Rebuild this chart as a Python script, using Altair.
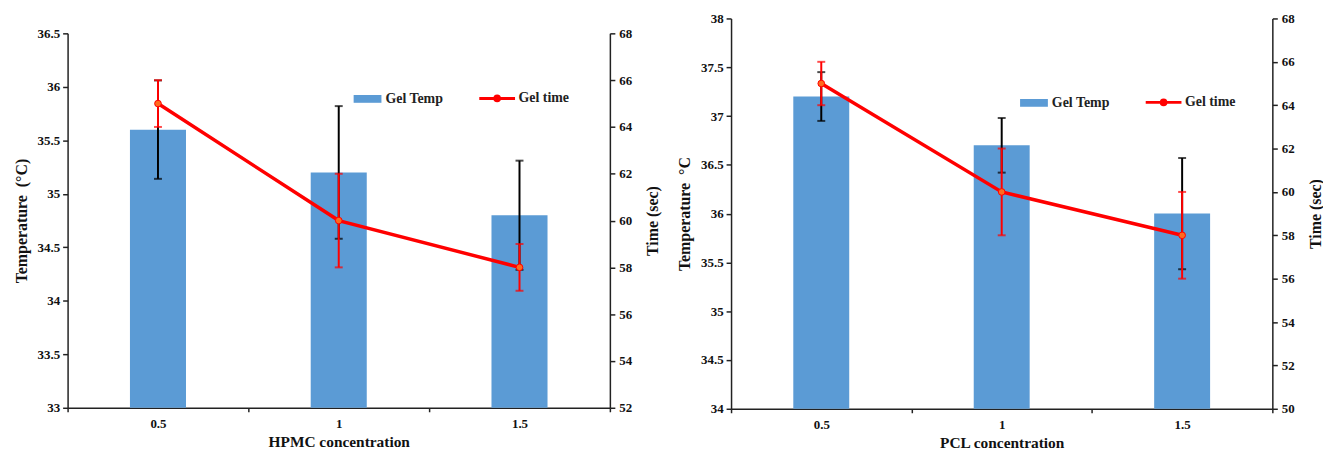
import altair as alt
import pandas as pd

# ---- data ----
conc = ["0.5", "1", "1.5"]

hpmc_temp = [35.6, 35.2, 34.8]
hpmc_temp_err = [0.46, 0.62, 0.51]
hpmc_time = [65, 60, 58]
hpmc_time_err = [1, 2, 1]

pcl_temp = [37.2, 36.7, 36.0]
pcl_temp_err = [0.25, 0.28, 0.57]
pcl_time = [65, 60, 58]
pcl_time_err = [1, 2, 2]

hpmc_temp_ticks = [33, 33.5, 34, 34.5, 35, 35.5, 36, 36.5]
hpmc_time_ticks = [52, 54, 56, 58, 60, 62, 64, 66, 68]
pcl_temp_ticks = [34, 34.5, 35, 35.5, 36, 36.5, 37, 37.5, 38]
pcl_time_ticks = [50, 52, 54, 56, 58, 60, 62, 64, 66, 68]

BLUE = "#5B9BD5"
RED = "#FF0000"
FONT = "Liberation Serif"
NB = "\u00a0"

TIME_SYMBOL = "M-1,0H1M0.13,0A0.13,0.13,0,1,1,-0.13,0A0.13,0.13,0,1,1,0.13,0"
BAR_SYMBOL = "M-1,-0.28H1V0.28H-1Z"


def panel(temp, terr, time, time_err, xtitle, ytitle, tticks, timeticks,
          w, h, leg1, leg2):
    df = pd.DataFrame({
        "conc": conc,
        "temp": temp,
        "tlo": [t - e for t, e in zip(temp, terr)],
        "thi": [t + e for t, e in zip(temp, terr)],
        "time": time,
        "mlo": [t - e for t, e in zip(time, time_err)],
        "mhi": [t + e for t, e in zip(time, time_err)],
        "s1": ["Gel Temp"] * 3,
        "s2": ["Gel time"] * 3,
    })
    xenc = alt.X("conc:N", sort=conc,
                 scale=alt.Scale(paddingInner=0, paddingOuter=0),
                 axis=alt.Axis(title=xtitle, labelAngle=0, tickBand="extent",
                               tickSize=4, labelPadding=6, titlePadding=4,
                               titleFontSize=15.5))
    base = alt.Chart(df).encode(x=xenc)

    tscale = alt.Scale(domain=[tticks[0], tticks[-1]], nice=False, zero=False)
    taxis = alt.Axis(title=ytitle, values=tticks, tickSize=5, labelPadding=3,
                     titlePadding=8, labelExpr="datum.value")
    mscale = alt.Scale(domain=[timeticks[0], timeticks[-1]], nice=False, zero=False)
    maxis = alt.Axis(title="Time (sec)", orient="right", values=timeticks,
                     tickSize=5, labelPadding=4, titlePadding=13, titleAngle=270,
                     titleBaseline="top")

    def yt(f):
        return alt.Y(f, scale=tscale, axis=taxis)

    def ym(f):
        return alt.Y(f, scale=mscale, axis=maxis)

    bars = base.mark_bar(width=alt.RelativeBandSize(0.31), clip=True).encode(
        y=yt("temp:Q"),
        fill=alt.Fill("s1:N", scale=alt.Scale(domain=["Gel Temp"], range=[BLUE]),
                      legend=alt.Legend(title=None, orient="none",
                                        legendX=leg1[0], legendY=leg1[1],
                                        symbolType=BAR_SYMBOL, symbolSize=784,
                                        symbolStrokeWidth=0, padding=0,
                                        labelFontSize=14, labelFont=FONT,
                                        labelFontWeight="bold", labelColor="#222",
                                        labelOffset=4)))
    brule = base.mark_rule(color="black", strokeWidth=2).encode(
        y=yt("tlo:Q"), y2="thi:Q")
    btick_lo = base.mark_tick(color="black", thickness=2, size=8).encode(y=yt("tlo:Q"))
    btick_hi = base.mark_tick(color="black", thickness=2, size=8).encode(y=yt("thi:Q"))

    line = base.mark_line(strokeWidth=3.5).encode(
        y=ym("time:Q"),
        stroke=alt.Stroke("s2:N", scale=alt.Scale(domain=["Gel time"], range=[RED]),
                          legend=alt.Legend(title=None, orient="none",
                                            legendX=leg2[0], legendY=leg2[1],
                                            symbolType=TIME_SYMBOL, symbolSize=1296,
                                            symbolStrokeWidth=3,
                                            symbolFillColor="#FF6A1E",
                                            padding=0,
                                            labelFontSize=14, labelFont=FONT,
                                            labelFontWeight="bold", labelColor="#222",
                                            labelOffset=2)))
    rrule = base.mark_rule(color=RED, strokeWidth=2).encode(y=ym("mlo:Q"), y2="mhi:Q")
    rtick_lo = base.mark_tick(color=RED, thickness=2, size=8).encode(y=ym("mlo:Q"))
    rtick_hi = base.mark_tick(color=RED, thickness=2, size=8).encode(y=ym("mhi:Q"))
    pts = base.mark_point(filled=True, size=45, color="#FF6A1E", stroke=RED,
                          strokeWidth=1, opacity=1).encode(y=ym("time:Q"))

    left = alt.layer(bars, brule, btick_lo, btick_hi)
    right = alt.layer(line, rrule, rtick_lo, rtick_hi, pts)
    return alt.layer(left, right).resolve_scale(
        y="independent", fill="independent", stroke="independent"
    ).properties(width=w, height=h)


c1 = panel(hpmc_temp, hpmc_temp_err, hpmc_time, hpmc_time_err,
           "HPMC concentration", "Temperature" + NB + NB + "(°C)",
           hpmc_temp_ticks, hpmc_time_ticks, 546, 377,
           (288, 52), (413, 46))
c2 = panel(pcl_temp, pcl_temp_err, pcl_time, pcl_time_err,
           "PCL concentration", "Temperature" + NB + NB + "°C",
           pcl_temp_ticks, pcl_time_ticks, 545, 393,
           (291, 71), (416, 65))

spacer = alt.Chart(pd.DataFrame({"a": [0]})).mark_point(opacity=0).encode(
    x=alt.X("a:Q", axis=None), y=alt.Y("a:Q", axis=None)
).properties(width=1, height=1)

chart = alt.hconcat(alt.vconcat(spacer, c1, spacing=5), c2, spacing=16).properties(
    padding={"left": 5, "top": 3, "right": 0, "bottom": 0}
).configure_axis(
    labelFont=FONT, labelFontSize=13, labelFontWeight="bold", labelColor="#111",
    titleFont=FONT, titleFontSize=16, titleFontWeight="bold", titleColor="#111",
    domainColor="#222", domainWidth=1.5, tickColor="#222", tickWidth=1.5, grid=False
).configure_view(stroke=None)

chart.save("out.html", embed_options={"renderer": "svg", "actions": False})
